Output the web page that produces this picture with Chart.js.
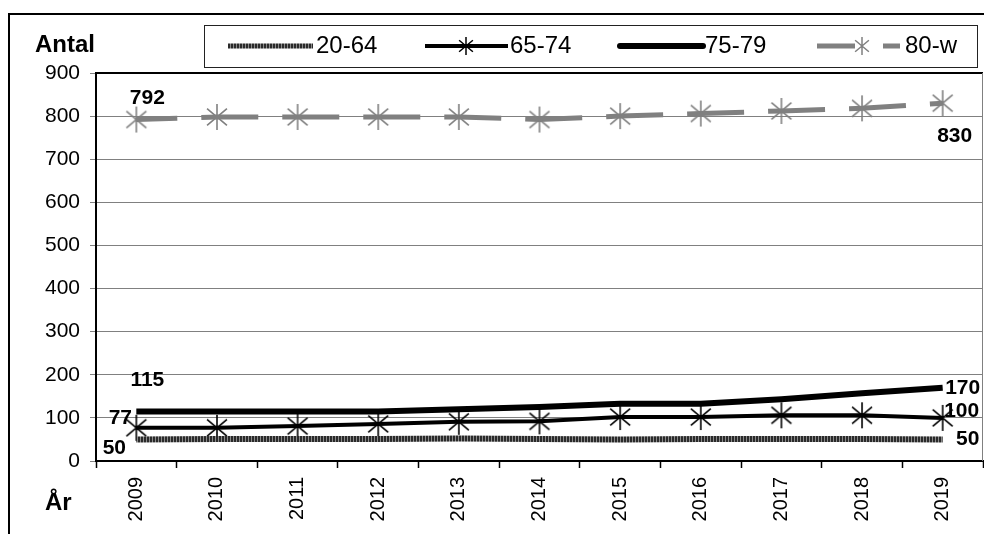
<!DOCTYPE html>
<html lang="sv">
<head>
  <meta charset="UTF-8">
  <title>Antal per åldersgrupp 2009-2019</title>
  <script src="https://cdn.jsdelivr.net/npm/chart.js"></script>
  <style>
    html, body { margin: 0; padding: 0; background: #fff; }
    #wrap { width: 984px; height: 534px; position: relative; }
  </style>
</head>
<body>
  <div id="wrap"><canvas id="myChart" width="984" height="534"></canvas></div>

  <script>
    // data
    const years = ['2009', '2010', '2011', '2012', '2013', '2014', '2015', '2016', '2017', '2018', '2019'];
    const seriesNames = ['20-64', '65-74', '75-79', '80-w'];
    const age2064 = [50, 51, 51, 51, 52, 51, 50, 51, 51, 51, 50];
    const age6574 = [77, 77, 81, 86, 91, 92, 102, 102, 106, 106, 100];
    const age7579 = [115, 115, 115, 115, 120, 125, 133, 133, 143, 157, 170];
    const age80w = [792, 798, 798, 798, 798, 792, 800, 806, 812, 818, 830];
    const yTicks = [0, 100, 200, 300, 400, 500, 600, 700, 800, 900];

    const FONT = '"Liberation Sans", Arial, sans-serif';
    const GRAY = '#808080';

    // striped stroke for the 20-64 line
    function makeStripes() {
      const c = document.createElement('canvas');
      c.width = 3; c.height = 3;
      const g = c.getContext('2d');
      g.fillStyle = '#8a8a8a';
      g.fillRect(0, 0, 3, 3);
      g.fillStyle = '#2a2a2a';
      g.fillRect(0, 0, 2, 3);
      return g.createPattern(c, 'repeat');
    }
    const stripes = makeStripes();

    // asterisk marker: one vertical spoke and an X
    function drawStar(g, x, y, r, color, lw) {
      g.save();
      g.strokeStyle = color;
      g.lineWidth = lw;
      g.beginPath();
      [90, 40, 140].forEach(deg => {
        const a = deg * Math.PI / 180;
        g.moveTo(x + Math.cos(a) * r, y + Math.sin(a) * r);
        g.lineTo(x - Math.cos(a) * r, y - Math.sin(a) * r);
      });
      g.stroke();
      g.restore();
    }
    function starImage(color, r) {
      const c = document.createElement('canvas');
      c.width = 2 * r + 4; c.height = 2 * r + 4;
      drawStar(c.getContext('2d'), r + 2, r + 2, r, color, 1.6);
      return c;
    }
    const blackStar = starImage('#000', 13);
    const grayStar = starImage(GRAY, 13);

    // legend box and frame, drawn by hand
    const framePlugin = {
      id: 'frame',
      beforeDraw(chart) {
        const g = chart.ctx;
        g.save();
        g.fillStyle = '#fff';
        g.fillRect(0, 0, chart.width, chart.height);
        g.strokeStyle = '#000';
        g.lineWidth = 2;
        g.beginPath();
        g.moveTo(9, chart.height + 2);
        g.lineTo(9, 14);
        g.lineTo(chart.width + 2, 14);
        g.stroke();

        g.fillStyle = '#000';
        g.font = 'bold 24px ' + FONT;
        g.textBaseline = 'alphabetic';
        g.fillText('Antal', 35, 52);
        g.fillText('År', 45, 510);

        // legend
        g.strokeStyle = '#222';
        g.lineWidth = 1;
        g.strokeRect(204.5, 25.5, 773, 42);
        const ly = 46;
        g.lineCap = 'butt';
        g.strokeStyle = stripes; g.lineWidth = 5;
        g.beginPath(); g.moveTo(228, ly); g.lineTo(313, ly); g.stroke();
        g.strokeStyle = '#000'; g.lineWidth = 4;
        g.beginPath(); g.moveTo(425, ly); g.lineTo(508, ly); g.stroke();
        drawStar(g, 466, ly, 9, '#000', 1.5);
        g.lineWidth = 6; g.lineCap = 'round';
        g.beginPath(); g.moveTo(620, ly); g.lineTo(703, ly); g.stroke();
        g.lineCap = 'butt';
        g.strokeStyle = GRAY; g.lineWidth = 5;
        g.beginPath(); g.moveTo(817, ly); g.lineTo(855, ly); g.moveTo(883, ly); g.lineTo(900, ly); g.stroke();
        drawStar(g, 862, ly, 9, GRAY, 1.5);

        g.fillStyle = '#000';
        g.font = '24px ' + FONT;
        g.textBaseline = 'middle';
        g.fillText(seriesNames[0], 316, ly);
        g.fillText(seriesNames[1], 510, ly);
        g.fillText(seriesNames[2], 705, ly);
        g.fillText(seriesNames[3], 905, ly);
        g.restore();
      },
      afterDraw(chart) {
        const a = chart.chartArea;
        const g = chart.ctx;
        g.save();
        g.strokeStyle = '#000';
        g.lineWidth = 2;
        g.beginPath();
        g.moveTo(a.left, a.top); g.lineTo(a.right, a.top);
        g.stroke();
        g.strokeStyle = GRAY; g.lineWidth = 1;
        g.beginPath();
        g.moveTo(a.right - 0.5, a.top); g.lineTo(a.right - 0.5, a.bottom);
        g.stroke();
        g.restore();
      }
    };

    // first/last value labels
    const valueLabels = [
      { ds: 0, i: 0, dx: -22, dy: 9 }, { ds: 0, i: 10, dx: 25, dy: 0 },
      { ds: 1, i: 0, dx: -16, dy: -10 }, { ds: 1, i: 10, dx: 19, dy: -7 },
      { ds: 2, i: 0, dx: 11, dy: -31 }, { ds: 2, i: 10, dx: 20, dy: 0 },
      { ds: 3, i: 0, dx: 11, dy: -21 }, { ds: 3, i: 10, dx: 12, dy: 33 }
    ];
    const labelPlugin = {
      id: 'valueLabels',
      afterDatasetsDraw(chart) {
        const g = chart.ctx;
        g.save();
        g.fillStyle = '#000';
        g.font = 'bold 21px ' + FONT;
        g.textAlign = 'center';
        g.textBaseline = 'middle';
        valueLabels.forEach(l => {
          const pt = chart.getDatasetMeta(l.ds).data[l.i];
          const v = chart.data.datasets[l.ds].data[l.i];
          g.fillText(String(v), pt.x + l.dx, pt.y + l.dy);
        });
        g.restore();
      }
    };

    const ctx = document.getElementById('myChart').getContext('2d');
    new Chart(ctx, {
      type: 'line',
      data: {
        labels: years,
        datasets: [
          {
            label: seriesNames[0], data: age2064,
            borderColor: stripes, borderWidth: 6, pointRadius: 0, tension: 0
          },
          {
            label: seriesNames[1], data: age6574,
            borderColor: '#000', borderWidth: 4,
            pointStyle: blackStar, pointRadius: 13, tension: 0
          },
          {
            label: seriesNames[2], data: age7579,
            borderColor: '#000', borderWidth: 6, pointRadius: 0, tension: 0
          },
          {
            label: seriesNames[3], data: age80w,
            borderColor: GRAY, borderWidth: 5, borderDash: [57, 24], borderDashOffset: 16,
            pointStyle: grayStar, pointRadius: 13, tension: 0
          }
        ]
      },
      options: {
        responsive: false,
        animation: false,
        layout: { autoPadding: false, padding: { left: 0, top: 73, right: 1, bottom: 0 } },
        plugins: { legend: { display: false }, tooltip: { enabled: false } },
        scales: {
          x: {
            offset: true,
            grid: { offset: true, drawOnChartArea: false, color: '#000', tickLength: 7, tickWidth: 1.5 },
            border: { color: '#000', width: 2 },
            ticks: {
              minRotation: 90, maxRotation: 90, padding: 9,
              color: '#000', font: { family: FONT, size: 20 }
            },
            afterFit(scale) {
              scale.height = 73;
              scale.paddingLeft = 0;
              scale.paddingRight = 0;
            }
          },
          y: {
            min: 0, max: 900,
            afterBuildTicks(scale) { scale.ticks = yTicks.map(v => ({ value: v })); },
            grid: { color: GRAY, lineWidth: 1, tickLength: 6 },
            border: { color: '#000', width: 2 },
            ticks: { padding: 10, color: '#000', font: { family: FONT, size: 21 } },
            afterFit(scale) { scale.width = 96; }
          }
        }
      },
      plugins: [framePlugin, labelPlugin]
    });
  </script>
</body>
</html>
